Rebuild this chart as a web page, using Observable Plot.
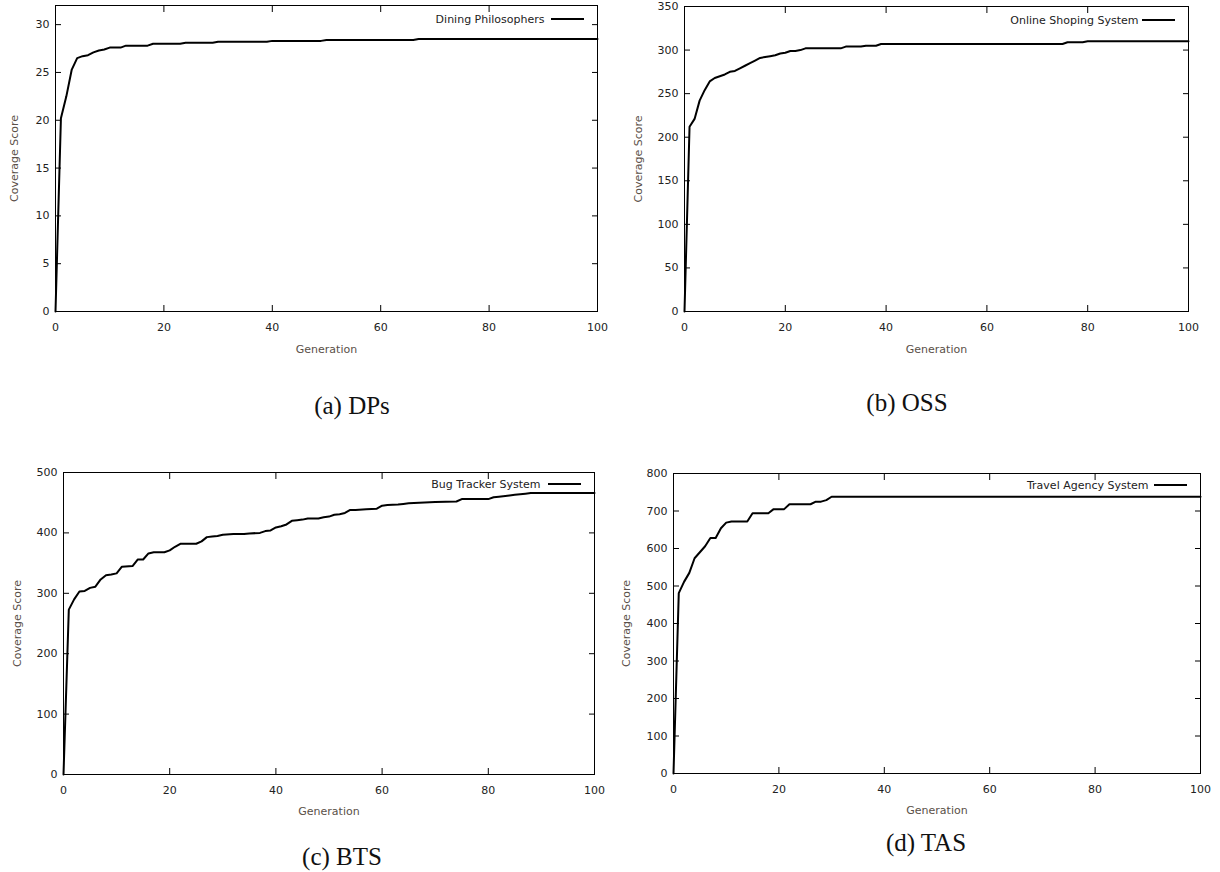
<!DOCTYPE html>
<html><head><meta charset="utf-8">
<script src="https://cdn.jsdelivr.net/npm/d3@7"></script>
<script src="https://cdn.jsdelivr.net/npm/@observablehq/plot@0.6"></script>
<style>
body{margin:0;background:#fff;}
#root{position:relative;width:1220px;height:872px;overflow:hidden;background:#fff;}
.panel{position:absolute;}
.cap{position:absolute;font-family:"Liberation Serif","Times New Roman",serif;font-size:25px;color:#111;transform:translate(-50%,-50%);white-space:nowrap;}
</style></head><body><div id="root"></div>
<script>
// ---- data ----
const xTicks = [0, 20, 40, 60, 80, 100];
const xTitle = "Generation";
const yTitle = "Coverage Score";

const dpName = "Dining Philosophers";
const dpCaption = "(a) DPs";
const dpGen   = [0, 1, 2, 3, 4, 5, 6, 7, 8, 9, 10, 12, 13, 17, 18, 23, 24, 29, 30, 39, 40, 49, 50, 66, 67, 100];
const dpScore = [0, 20.2, 22.5, 25.3, 26.5, 26.7, 26.8, 27.1, 27.3, 27.4, 27.6, 27.6, 27.8, 27.8, 28.0, 28.0, 28.1, 28.1, 28.2, 28.2, 28.3, 28.3, 28.4, 28.4, 28.5, 28.5];
const dpYTicks = [0, 5, 10, 15, 20, 25, 30];

const ossName = "Online Shoping System";
const ossCaption = "(b) OSS";
const ossGen   = [0, 1, 2, 3, 4, 5, 6, 7, 8, 9, 10, 11, 12, 13, 14, 15, 16, 17, 18, 19, 20, 21, 22, 23, 24, 31, 32, 35, 36, 38, 39, 75, 76, 79, 80, 100];
const ossScore = [0, 212, 221, 242, 254, 264, 268, 270, 272, 275, 276, 279, 282, 285, 288, 291, 292, 293, 294, 296, 297, 299, 299, 300, 302, 302, 304, 304, 305, 305, 307, 307, 309, 309, 310, 310];
const ossYTicks = [0, 50, 100, 150, 200, 250, 300, 350];

const btsName = "Bug Tracker System";
const btsCaption = "(c) BTS";
const btsGen   = [0, 1, 2, 3, 4, 5, 6, 7, 8, 9, 10, 11, 13, 14, 15, 16, 17, 19, 20, 21, 22, 25, 26, 27, 28, 29, 30, 32, 34, 35, 37, 38, 39, 40, 41, 42, 43, 44, 45, 46, 48, 49, 50, 51, 52, 53, 54, 55, 57, 59, 60, 61, 63, 64, 65, 67, 70, 74, 75, 80, 81, 82, 84, 85, 87, 88, 100];
const btsScore = [0, 273, 290, 303, 304, 309, 311, 323, 330, 331, 333, 344, 345, 356, 356, 366, 368, 368, 371, 377, 382, 382, 386, 393, 394, 395, 397, 398, 398, 399, 400, 403, 404, 409, 411, 414, 420, 421, 422, 424, 424, 426, 427, 430, 431, 433, 438, 438, 439, 440, 445, 446, 447, 448, 449, 450, 451, 452, 456, 456, 459, 460, 462, 463, 465, 466, 466];
const btsYTicks = [0, 100, 200, 300, 400, 500];

const tasName = "Travel Agency System";
const tasCaption = "(d) TAS";
const tasGen   = [0, 1, 2, 3, 4, 5, 6, 7, 8, 9, 10, 11, 14, 15, 18, 19, 21, 22, 26, 27, 28, 29, 30, 100];
const tasScore = [0, 481, 511, 535, 574, 590, 606, 628, 628, 654, 669, 672, 672, 694, 694, 705, 705, 718, 718, 725, 725, 729, 738, 738];
const tasYTicks = [0, 100, 200, 300, 400, 500, 600, 700, 800];

// ---- layout ----
const panels = [
  {name: dpName, caption: dpCaption, gen: dpGen, score: dpScore, yTicks: dpYTicks, yMax: 32,
   left: 0, top: 0, mt: 5, mr: 13, mb: 49, ml: 55, yT: -41, xT: 38, legDy: 14, legTx: -53,
   cap: [352, 406]},
  {name: ossName, caption: ossCaption, gen: ossGen, score: ossScore, yTicks: ossYTicks, yMax: 350,
   left: 610, top: 0, mt: 6, mr: 32, mb: 49, ml: 74, yT: -46, xT: 38, legDy: 14, legTx: -50,
   cap: [907, 403]},
  {name: btsName, caption: btsCaption, gen: btsGen, score: btsScore, yTicks: btsYTicks, yMax: 500,
   left: 0, top: 460, mt: 12, mr: 16, mb: 46, ml: 63, yT: -46, xT: 37, legDy: 12, legTx: -54,
   cap: [342, 857]},
  {name: tasName, caption: tasCaption, gen: tasGen, score: tasScore, yTicks: tasYTicks, yMax: 800,
   left: 610, top: 460, mt: 13, mr: 20, mb: 47, ml: 63, yT: -47, xT: 37, legDy: 12, legTx: -52,
   cap: [926, 843]}
];

const root = document.getElementById("root");

for (const p of panels) {
  const rows = p.gen.map((g, i) => ({g, s: p.score[i]}));
  const legendLine = (index, scales, values, dims) => {
    const x2 = dims.width - dims.marginRight - 13;
    const x1 = x2 - 33;
    const y = dims.marginTop + p.legDy;
    const el = d3.create("svg:line")
      .attr("x1", x1).attr("x2", x2).attr("y1", y).attr("y2", y)
      .attr("stroke", "black").attr("stroke-width", 2);
    return el.node();
  };
  const chart = Plot.plot({
    width: 610,
    height: 360,
    marginTop: p.mt, marginRight: p.mr, marginBottom: p.mb, marginLeft: p.ml,
    style: {fontFamily: "'DejaVu Sans', Verdana, sans-serif", fontSize: "11px", color: "#222", background: "white"},
    x: {domain: [0, 100]},
    y: {domain: [0, p.yMax]},
    marks: [
      Plot.axisX({anchor: "bottom", ticks: xTicks, tickSize: -6, tickPadding: 18, label: null, stroke: "black", fill: "#222"}),
      Plot.axisX({anchor: "top", ticks: xTicks, tickSize: -6, tickFormat: () => "", label: null, stroke: "black"}),
      Plot.axisY({anchor: "left", ticks: p.yTicks, tickSize: -6, tickPadding: 12, label: null, stroke: "black", fill: "#222"}),
      Plot.axisY({anchor: "right", ticks: p.yTicks, tickSize: -6, tickFormat: () => "", label: null, stroke: "black"}),
      Plot.frame({stroke: "black"}),
      Plot.line(rows, {x: "g", y: "s", stroke: "black", strokeWidth: 2}),
      Plot.text([xTitle], {frameAnchor: "bottom", dy: p.xT, text: d => d, textAnchor: "middle", lineAnchor: "middle", fill: "#5a5048", fontSize: 11}),
      Plot.text([yTitle], {frameAnchor: "left", dx: p.yT, rotate: -90, text: d => d, textAnchor: "middle", lineAnchor: "middle", fill: "#5a5048", fontSize: 11}),
      Plot.text([p.name], {frameAnchor: "top-right", dx: p.legTx, dy: p.legDy, textAnchor: "end", lineAnchor: "middle", text: d => d, fill: "#222", fontSize: 11}),
      legendLine
    ]
  });
  const div = document.createElement("div");
  div.className = "panel";
  div.style.left = p.left + "px";
  div.style.top = p.top + "px";
  div.appendChild(chart);
  root.appendChild(div);

  const cap = document.createElement("div");
  cap.className = "cap";
  cap.style.left = p.cap[0] + "px";
  cap.style.top = p.cap[1] + "px";
  cap.textContent = p.caption;
  root.appendChild(cap);
}
</script>
</body></html>
